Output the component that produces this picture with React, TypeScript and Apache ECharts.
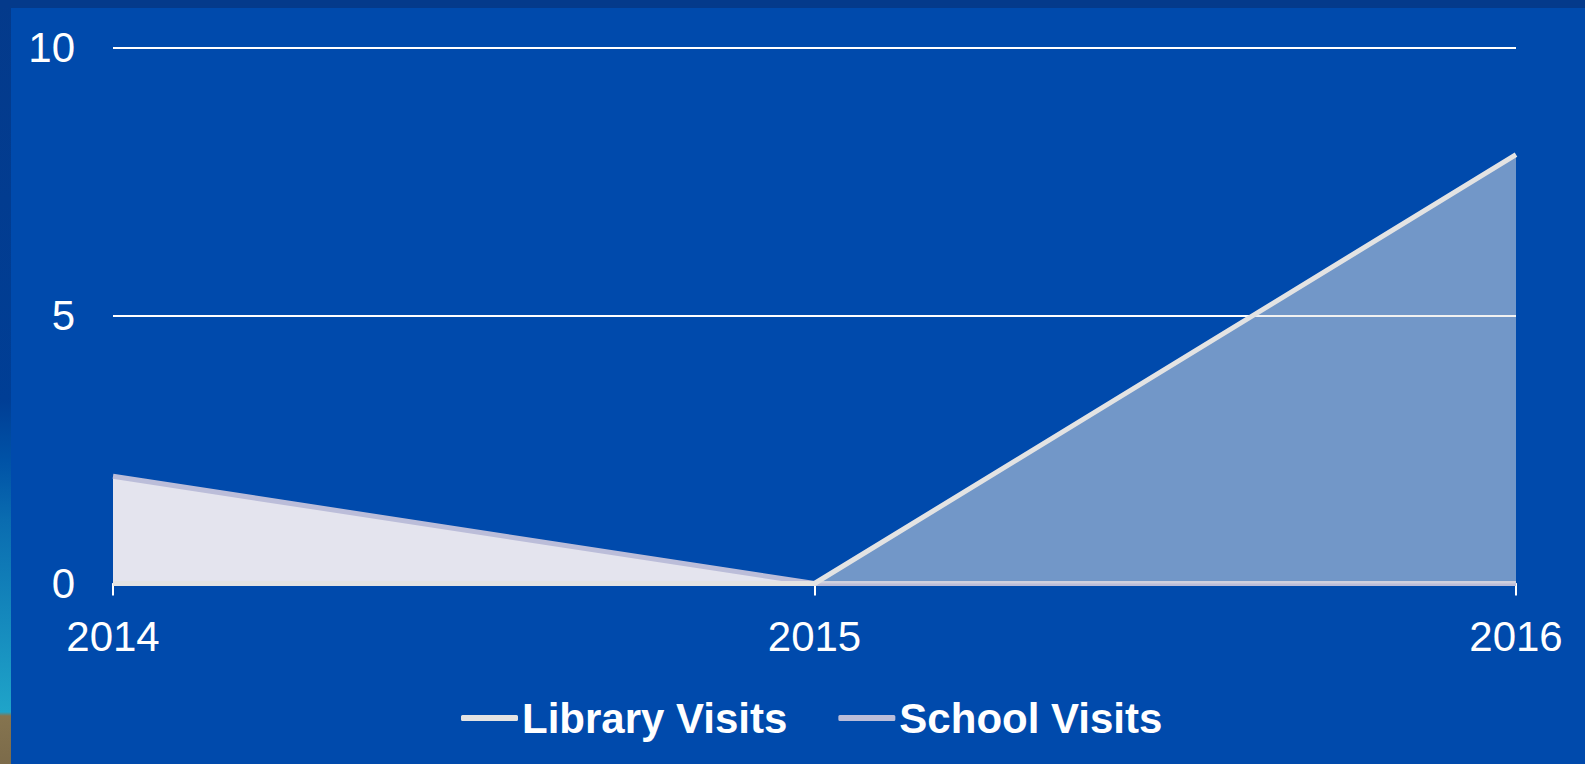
import React, { useEffect, useRef } from "react";
import * as echarts from "echarts";

const years = ["2014", "2015", "2016"];
const libraryVisits = [0, 0, 8];
const schoolVisits = [2, 0, 0];
const seriesNames = ["Library Visits", "School Visits"];

const FONT = "'Liberation Sans', Arial, Helvetica, sans-serif";

export default function App() {
  const ref = useRef<HTMLDivElement>(null);

  useEffect(() => {
    if (!ref.current) return;
    const chart = echarts.init(ref.current, undefined, { renderer: "svg" });
    chart.setOption({
      animation: false,
      backgroundColor: "transparent",
      textStyle: { fontFamily: FONT },
      grid: { left: 113, right: 69, top: 47.5, bottom: 180.5 },
      legend: {
        left: 456,
        top: 692,
        icon: "roundRect",
        itemWidth: 57,
        itemHeight: 6,
        itemGap: 51,
        data: [
          { name: seriesNames[0], itemStyle: { color: "#E3E3E3" } },
          { name: seriesNames[1], itemStyle: { color: "#BBBDD9" } },
        ],
        textStyle: {
          color: "#FFFFFF",
          fontSize: 42,
          fontWeight: "bold",
          fontFamily: FONT,
          padding: [0, 0, 0, -1],
        },
      },
      xAxis: {
        type: "category",
        data: years,
        boundaryGap: false,
        axisLine: { show: true, lineStyle: { color: "#FFFFFF", width: 2 } },
        axisTick: { show: true, length: 12, lineStyle: { color: "#FFFFFF", width: 2 } },
        axisLabel: { color: "#FFFFFF", fontSize: 42, margin: 32, fontFamily: FONT },
        splitLine: { show: false },
      },
      yAxis: {
        type: "value",
        min: 0,
        max: 10,
        interval: 5,
        axisLine: { show: false },
        axisTick: { show: false },
        axisLabel: { color: "#FFFFFF", fontSize: 42, margin: 38, fontFamily: FONT },
        splitLine: { show: true, lineStyle: { color: "#FFFFFF", width: 2 } },
      },
      series: [
        {
          name: seriesNames[1],
          type: "line",
          data: schoolVisits,
          z: 2,
          showSymbol: false,
          symbol: "none",
          color: "#BBBDD9",
          lineStyle: { color: "#BBBDD9", width: 5 },
          areaStyle: { color: "#E4E4EE", opacity: 1 },
        },
        {
          name: seriesNames[0],
          type: "line",
          data: libraryVisits,
          z: 3,
          showSymbol: false,
          symbol: "none",
          color: "#E3E3E3",
          lineStyle: { color: "#E3E3E3", width: 5 },
          areaStyle: { color: "#E3E3E3", opacity: 0.5 },
        },
      ],
    });
    return () => chart.dispose();
  }, []);

  return (
    <div
      style={{
        position: "fixed",
        left: 0,
        top: 0,
        width: 1585,
        height: 764,
        overflow: "hidden",
        background:
          "linear-gradient(#043A8B,#043A8B) left top / 100% 8px no-repeat, " +
          "linear-gradient(to bottom, #043A8B 0px, #003E95 400px, #0052A6 460px, #0A6CB0 520px, #1FA4C9 712px, #85744F 716px, #7C6B4A 764px) left top / 11px 100% no-repeat, " +
          "#004AAC",
      }}
    >
      <div ref={ref} style={{ position: "absolute", left: 0, top: 0, width: 1585, height: 764 }} />
    </div>
  );
}
